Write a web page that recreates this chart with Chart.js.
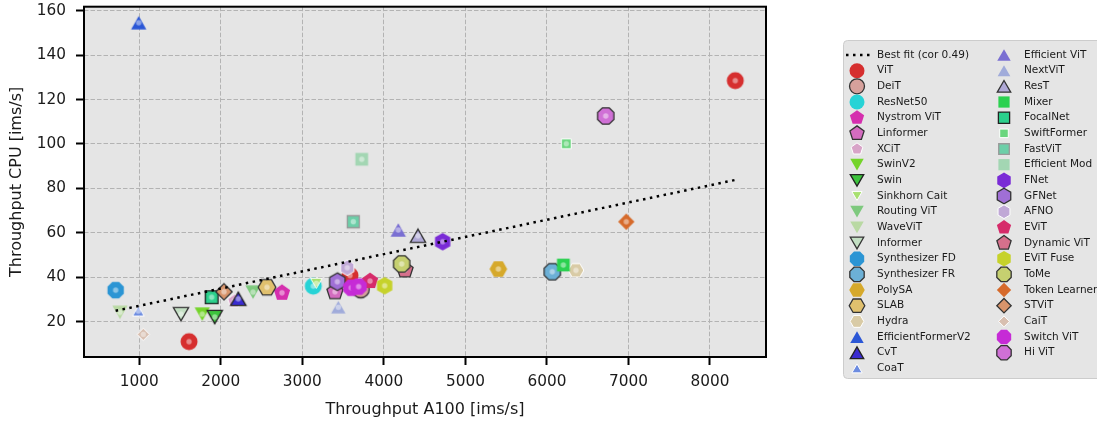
<!DOCTYPE html>
<html>
<head>
<meta charset="utf-8">
<script src="https://cdn.jsdelivr.net/npm/chart.js@4.4.0/dist/chart.umd.min.js"></script>
<style>
    html, body { margin: 0; padding: 0; background: #fff; }
    #wrap { width: 1097px; height: 423px; }
</style>
</head>
<body>
<div id="wrap"><canvas id="chart" width="1097" height="423"></canvas></div>
<script>
// values
const modelNames = ["ViT", "DeiT", "ResNet50", "Nystrom ViT", "Linformer", "XCiT", "SwinV2", "Swin",
    "Sinkhorn Cait", "Routing ViT", "WaveViT", "Informer", "Synthesizer FD", "Synthesizer FR", "PolySA",
    "SLAB", "Hydra", "EfficientFormerV2", "CvT", "CoaT", "Efficient ViT", "NextViT", "ResT", "Mixer",
    "FocalNet", "SwiftFormer", "FastViT", "Efficient Mod", "FNet", "GFNet", "AFNO", "EViT", "Dynamic ViT",
    "EViT Fuse", "ToMe", "Token Learner", "STViT", "CaiT", "Switch ViT", "Hi ViT"];

const throughputA100 = [[1610, 3584, 8310], [3716], [3134], [2750], [3400], [2165], [1773], [1925],
    [3171], [2395], [763], [1511], [710], [6066], [5404],
    [2566], [6356], [993], [2214], [988], [4177], [3441], [4418], [6201],
    [1888], [6237], [3625], [3728], [4721], [3429], [3551], [3830], [4259],
    [4010], [4218], [6973], [2039], [1049], [3600, 3690], [6721]];

const throughputCPU = [[11.0, 40.8, 128.5], [34.6], [36.0], [33.0], [33.5], [29.3], [23.4], [22.1],
    [37.3], [33.3], [24.2], [23.4], [34.2], [42.5], [43.7],
    [35.5], [43.1], [154.6], [30.3], [24.8], [61.3], [26.5], [58.7], [45.5],
    [31.0], [100.1], [65.0], [93.1], [56.0], [38.0], [44.3], [38.3], [43.3],
    [36.2], [46.0], [65.0], [33.5], [14.3], [35.3, 35.8], [112.6]];

const fitLabel = "Best fit (cor 0.49)";
const fitA100 = [710, 8310];
const fitCPU = [24.9, 83.8];

const xTicks = [1000, 2000, 3000, 4000, 5000, 6000, 7000, 8000];
const yTicks = [20, 40, 60, 80, 100, 120, 140, 160];

// marker styling (matplotlib-like marker codes)
const markerShapes = ["o", "o", "o", "p", "p", "p", "v", "v", "v", "v", "v", "v", "8", "8", "H",
    "H", "H", "^", "^", "^", "^", "^", "^", "s", "s", "s", "s", "s", "h", "h", "h", "p", "p",
    "h", "8", "D", "D", "D", "8", "8"];
const markerColors = ["#d62f2f", "#d6a19c", "#27d3d6", "#d52fae", "#d36cbf", "#d8a4c8", "#74d42a", "#3dc43d",
    "#a8e070", "#7ec97e", "#b9d9a3", "#c3dfc3", "#2b95d4", "#6cb0d6", "#d6a92b",
    "#e0c06e", "#d9cba6", "#2b57d6", "#3a2bd0", "#6d8ce0", "#7a6fd2", "#a0abda", "#b0a9d6", "#2bd150",
    "#2bd08c", "#6ad67e", "#6ccfa8", "#a3d6b3", "#7a2bd6", "#a06fd6", "#c0a8d6", "#d62b6a", "#d6708c",
    "#c6d22b", "#c6d070", "#d66a2b", "#d8946b", "#d8bfb0", "#c62bd6", "#d070d6"];
const markerEdges = [null, "#333", null, null, "#333", "#fff", null, "#222", "#fff", null, null, "#333",
    null, "#333", null, "#333", "#fff", null, "#222", "#fff", null, null, "#333", null,
    "#222", "#fff", "#999", null, null, "#333", "#fff", null, "#333", null, "#333", null, "#333", "#fff",
    null, "#333"];
const markerSizes = [8.5, 8.5, 8.5, 8.5, 8.5, 7, 8.5, 8.5, 6.5, 8.5, 8.5, 8.5, 8.5, 8.5, 8.5,
    8.5, 7.5, 8.5, 8.5, 6.5, 8.5, 8, 8.5, 8.5, 8.5, 6.5, 8, 8.5, 8.5, 8.5, 7.5, 8.5, 8.5,
    8.5, 8.5, 8.5, 8.5, 6.5, 8.5, 8.5];

const textColor = "#1a1a1a";
Chart.defaults.font.family = "'DejaVu Sans', sans-serif";

function tracePath(ctx, shape, R) {
    ctx.beginPath();
    if (shape === "o") {
        ctx.arc(0, 0, R, 0, Math.PI * 2);
    } else if (shape === "^" || shape === "v") {
        const hw = 0.9 * R, hh = 0.78 * R, s = shape === "^" ? 1 : -1;
        ctx.moveTo(0, -s * hh);
        ctx.lineTo(hw, s * hh);
        ctx.lineTo(-hw, s * hh);
    } else if (shape === "s") {
        const h = 0.75 * R;
        ctx.rect(-h, -h, 2 * h, 2 * h);
    } else if (shape === "D") {
        const h = 0.96 * R;
        ctx.moveTo(0, -h); ctx.lineTo(h, 0); ctx.lineTo(0, h); ctx.lineTo(-h, 0);
    } else {
        const n = { p: 5, h: 6, H: 6, "8": 8 }[shape];
        const rot = shape === "H" ? Math.PI / 6 : shape === "8" ? Math.PI / 8 : 0;
        const rr = shape === "p" ? R : 1.04 * R;
        for (let k = 0; k < n; k++) {
            const a = rot + k * 2 * Math.PI / n;
            const px = rr * Math.sin(a), py = -rr * Math.cos(a);
            if (k) ctx.lineTo(px, py); else ctx.moveTo(px, py);
        }
    }
    ctx.closePath();
}

function drawMarker(ctx, x, y, i, scale, withDot) {
    const R = markerSizes[i] * scale;
    ctx.save();
    ctx.translate(x, y);
    tracePath(ctx, markerShapes[i], R);
    ctx.fillStyle = markerColors[i];
    ctx.fill();
    if (markerEdges[i]) {
        ctx.lineWidth = markerEdges[i] === "#fff" ? 1 : 1.3;
        ctx.strokeStyle = markerEdges[i];
        ctx.stroke();
    }
    if (withDot) {
        ctx.beginPath();
        ctx.arc(0, 0, 2.7, 0, Math.PI * 2);
        ctx.fillStyle = "rgba(255, 255, 255, 0.45)";
        ctx.fill();
    }
    ctx.restore();
}

function makeMarkerImage(i) {
    const size = Math.ceil(markerSizes[i] * 2.3 + 4);
    const c = document.createElement("canvas");
    c.width = size;
    c.height = size;
    drawMarker(c.getContext("2d"), size / 2, size / 2, i, 1, true);
    return c;
}

// grey plot background + black frame
const frame = {
    id: "frame",
    beforeDraw(chart) {
        const { ctx, chartArea: a } = chart;
        ctx.save();
        ctx.fillStyle = "#e5e5e5";
        ctx.fillRect(a.left, a.top, a.right - a.left, a.bottom - a.top);
        ctx.restore();
    },
    afterDatasetsDraw(chart) {
        const { ctx, chartArea: a } = chart;
        ctx.save();
        ctx.lineWidth = 2;
        ctx.strokeStyle = "#000";
        ctx.strokeRect(a.left, a.top, a.right - a.left, a.bottom - a.top);
        ctx.restore();
    }
};

// two-column legend on the right, column-major like matplotlib
const sideLegend = {
    id: "sideLegend",
    afterDraw(chart) {
        const ctx = chart.ctx;
        const rows = 21, y0 = 55, dy = 15.67;
        const cols = [{ mx: 857, tx: 877 }, { mx: 1004, tx: 1024 }];
        ctx.save();
        ctx.beginPath();
        ctx.roundRect(843.5, 40.5, 300, 338, 4);
        ctx.fillStyle = "#e5e5e5";
        ctx.fill();
        ctx.lineWidth = 1;
        ctx.strokeStyle = "#cccccc";
        ctx.stroke();

        ctx.font = "10.5px 'DejaVu Sans'";
        ctx.textBaseline = "middle";
        ctx.fillStyle = textColor;
        const labels = [fitLabel].concat(modelNames);
        labels.forEach((label, k) => {
            const col = cols[Math.floor(k / rows)];
            const y = y0 + (k % rows) * dy;
            if (k === 0) {
                ctx.save();
                ctx.setLineDash([2.5, 4.5]);
                ctx.lineWidth = 2.5;
                ctx.strokeStyle = "#000";
                ctx.beginPath();
                ctx.moveTo(846, y);
                ctx.lineTo(870, y);
                ctx.stroke();
                ctx.restore();
            } else {
                drawMarker(ctx, col.mx, y, k - 1, 0.88, false);
            }
            ctx.fillStyle = textColor;
            ctx.fillText(label, col.tx, y);
        });
        ctx.restore();
    }
};

const datasets = [{
    label: fitLabel,
    data: fitA100.map((x, i) => ({ x, y: fitCPU[i] })),
    showLine: true,
    borderColor: "#000",
    borderWidth: 2.5,
    borderDash: [2.5, 4.5],
    pointRadius: 0,
    order: 0
}];
modelNames.forEach((name, i) => {
    datasets.push({
        label: name,
        data: throughputA100[i].map((x, j) => ({ x, y: throughputCPU[i][j] })),
        pointStyle: makeMarkerImage(i),
        pointRadius: markerSizes[i],
        order: modelNames.length - i
    });
});

const axisGrid = { color: "#b3b3b3", lineWidth: 1, tickColor: "#000", tickWidth: 2, tickLength: 8 };
const axisBorder = { display: false, dash: [4.5, 2] };

new Chart(document.getElementById("chart"), {
    type: "scatter",
    data: { datasets },
    plugins: [frame, sideLegend],
    options: {
        responsive: false,
        animation: false,
        events: [],
        layout: { autoPadding: false, padding: { top: 6.7, right: 331, left: 0, bottom: 0 } },
        plugins: { legend: { display: false }, tooltip: { enabled: false } },
        scales: {
            x: {
                type: "linear",
                bounds: "data",
                min: 322,
                max: 8687,
                afterBuildTicks: s => { s.ticks = xTicks.map(v => ({ value: v })); },
                afterFit: s => { s.height = 66; s.paddingLeft = 0; s.paddingRight = 0; },
                ticks: { color: textColor, font: { size: 15.3 }, padding: 8, maxRotation: 0, callback: v => String(v) },
                grid: axisGrid,
                border: axisBorder,
                title: { display: true, text: "Throughput A100 [ims/s]", color: textColor, font: { size: 16 }, padding: { top: 0, bottom: 4 } }
            },
            y: {
                type: "linear",
                bounds: "data",
                min: 4.1,
                max: 161.8,
                afterBuildTicks: s => { s.ticks = yTicks.map(v => ({ value: v })); },
                afterFit: s => { s.width = 84; s.paddingTop = 0; s.paddingBottom = 0; },
                ticks: { color: textColor, font: { size: 15.3 }, padding: 10, callback: v => String(v) },
                grid: axisGrid,
                border: axisBorder,
                title: { display: true, text: "Throughput CPU [ims/s]", color: textColor, font: { size: 16 }, padding: { top: 7, bottom: 0 } }
            }
        }
    }
});
</script>
</body>
</html>
